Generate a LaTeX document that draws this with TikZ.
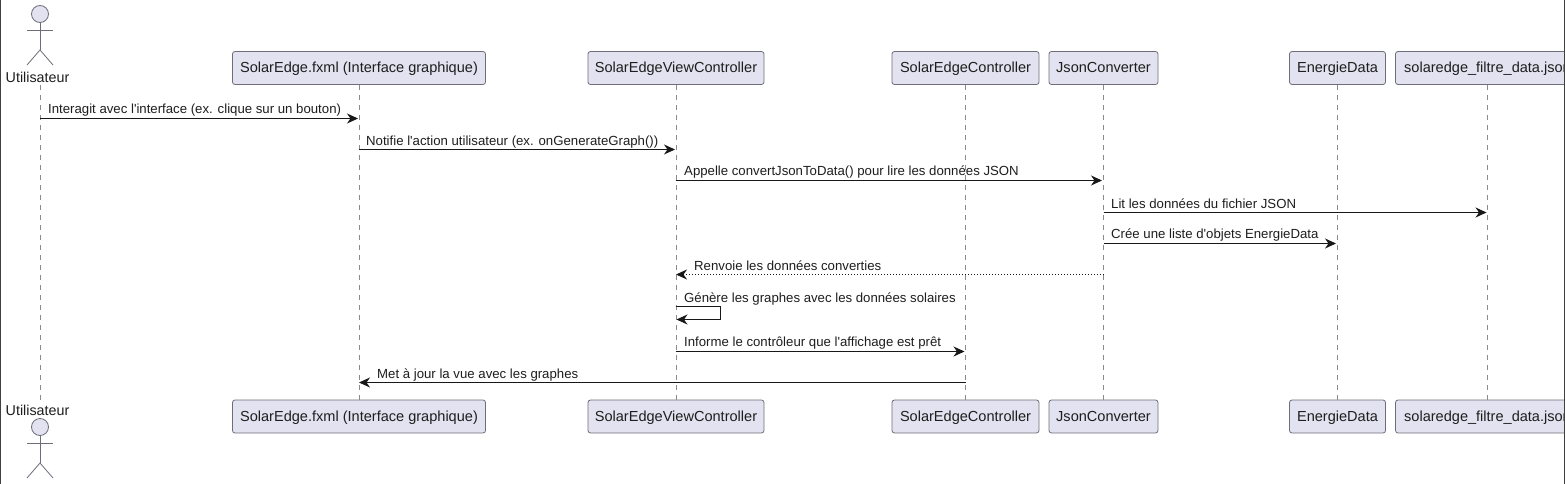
\documentclass[tikz,border=0pt]{standalone}
\usepackage{fontspec}
\setmainfont{Liberation Sans}[Ligatures=TeXOff]
\definecolor{partfill}{HTML}{E2E2F0}
\definecolor{partline}{HTML}{6E6E7A}
\definecolor{lifeline}{HTML}{8A8A8A}
\definecolor{msgline}{HTML}{181818}
\definecolor{txt}{HTML}{1E1E1E}
\usetikzlibrary{arrows.meta}
\tikzset{
  partbox/.style={draw=partline,fill=partfill,line width=0.8pt,rounded corners=2.5pt,minimum height=33pt,inner xsep=0pt,inner ysep=0pt,text=txt,font=\fontsize{14.55}{16}\selectfont,text height=12pt,text depth=2.5pt,anchor=center},
  life/.style={draw=lifeline,line width=0.9pt,dash pattern=on 5pt off 5pt},
  msg/.style={draw=msgline,line width=1pt,-{Stealth[length=11pt,width=10pt,inset=3.5pt]}},
  msgtext/.style={text=txt,font=\fontsize{13.2}{15}\selectfont,anchor=base west,inner sep=0pt},
  actorline/.style={draw=partline,line width=0.8pt},
  actorhead/.style={draw=partline,fill=partfill,line width=0.8pt,circle,minimum size=17pt,inner sep=0pt},
  actorname/.style={text=txt,font=\fontsize{14.3}{16}\selectfont,inner sep=0pt}
}
\begin{document}
\begin{tikzpicture}[x=1pt,y=-1pt]
\useasboundingbox (0,0) rectangle (1565,484);
\fill[white] (0,0) rectangle (1565,484);
\begin{scope}
\clip (0,0) rectangle (1564,484);
% top participants
\node[partbox,minimum width=253pt] (t2) at (359,68) {SolarEdge.fxml (Interface graphique)};
\node[partbox,minimum width=176pt] (t3) at (676,68) {SolarEdgeViewController};
\node[partbox,minimum width=147pt] (t4) at (965.5,68) {SolarEdgeController};
\node[partbox,minimum width=109pt] (t5) at (1103.5,68) {JsonConverter};
\node[partbox,minimum width=96pt] (t6) at (1337.5,68) {EnergieData};
\node[partbox,minimum width=184pt] (t7) at (1487.5,68) {solaredge\_filtre\_data.json};
% bottom participants
\node[partbox,minimum width=253pt] (b2) at (359,416.5) {SolarEdge.fxml (Interface graphique)};
\node[partbox,minimum width=176pt] (b3) at (676,416.5) {SolarEdgeViewController};
\node[partbox,minimum width=147pt] (b4) at (965.5,416.5) {SolarEdgeController};
\node[partbox,minimum width=109pt] (b5) at (1103.5,416.5) {JsonConverter};
\node[partbox,minimum width=96pt] (b6) at (1337.5,416.5) {EnergieData};
\node[partbox,minimum width=184pt] (b7) at (1487.5,416.5) {solaredge\_filtre\_data.json};
\end{scope}
% actors
\node[actorhead] (h1) at (40,14) {};
\coordinate (tb) at (40,50);
\draw[actorline] (h1) -- (tb);
\draw[actorline] (27,30) -- (53,30);
\draw[actorline] (27,65) -- (tb) -- (53,65);
\node[actorname] (t1) at (37.5,77) {Utilisateur};
\node[actorname] (b1) at (37.5,410) {Utilisateur};
\node[actorhead] (h2) at (40,427) {};
\coordinate (bb) at (40,463);
\draw[actorline] (h2) -- (bb);
\draw[actorline] (27,443) -- (53,443);
\draw[actorline] (27,478) -- (bb) -- (53,478);
% lifelines
\draw[life] (40,85) -- (40,400);
\foreach \a/\b in {t2/b2,t3/b3,t4/b4,t5/b5,t6/b6,t7/b7} \draw[life] (\a.south) -- (\b.north);
% messages
\draw[msg] (40,118.5) -- (358,118.5);
\node[msgtext] (m1) at (48,113.5) {Interagit avec l'interface (ex. clique sur un bouton)};
\draw[msg] (358.5,149.5) -- (675,149.5);
\node[msgtext] (m2) at (366,145) {Notifie l'action utilisateur (ex. onGenerateGraph())};
\draw[msg] (675.5,180.5) -- (1102,180.5);
\node[msgtext] (m3) at (684,175.5) {Appelle convertJsonToData() pour lire les données JSON};
\draw[msg] (1103.5,212.5) -- (1486.5,212.5);
\node[msgtext] (m4) at (1111,208) {Lit les données du fichier JSON};
\draw[msg] (1103.5,243.5) -- (1336,243.5);
\node[msgtext] (m5) at (1111,238.5) {Crée une liste d'objets EnergieData};
\draw[msg,dotted] (1103.5,274.5) -- (676,274.5);
\node[msgtext] (m6) at (694,270) {Renvoie les données converties};
\draw[msg] (675.5,306.5) -- (720.5,306.5) -- (720.5,319.5) -- (676.5,319.5);
\node[msgtext] (m7) at (684,302) {Génère les graphes avec les données solaires};
\draw[msg] (675.5,351.5) -- (964.5,351.5);
\node[msgtext] (m8) at (684,346) {Informe le contrôleur que l'affichage est prêt};
\draw[msg] (965.5,382.5) -- (359,382.5);
\node[msgtext] (m9) at (377,378) {Met à jour la vue avec les graphes};
% frame
\draw[draw=black!75,line width=1.2pt] (0.5,0) -- (0.5,484) (1564.5,0) -- (1564.5,484);
\end{tikzpicture}
\end{document}
